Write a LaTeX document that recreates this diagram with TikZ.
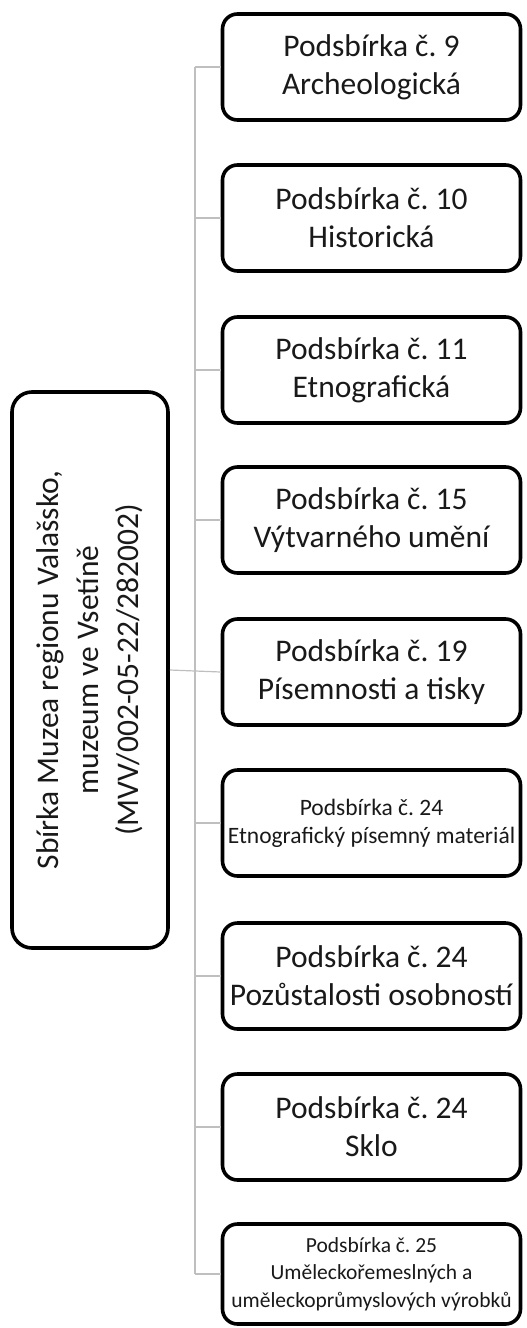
\documentclass[tikz,border=0pt]{standalone}
\usepackage{fontspec}
\setmainfont{Carlito}
\frenchspacing
\begin{document}
\begin{tikzpicture}[x=1pt,y=-1pt,
  child/.style={draw=black, line width=3.6pt, rounded corners=15pt, align=center, inner sep=0pt,
    minimum width=298pt, minimum height=106pt, text=black!90},
  big/.style={font=\fontsize{31.5}{38}\selectfont},
  small/.style={font=\fontsize{23.5}{28}\selectfont},
  tiny/.style={font=\fontsize{21.5}{27.5}\selectfont},
  rootbox/.style={draw=black, line width=3.6pt, rounded corners=20pt, align=center, inner sep=0pt,
    minimum width=556pt, minimum height=156pt, rotate=90, text=black!90,
    font=\fontsize{31.5}{40}\selectfont},
  conn/.style={draw=black!25, line width=1.2pt}]
\useasboundingbox (0,0) rectangle (527,1328);
\coordinate (trunk) at (195,0);
\node[rootbox] (root) at (90,670) {Sbírka Muzea regionu Valašsko,\\muzeum ve Vsetíně\\(MVV/002-05-22/282002)};
\node[child,big] (b1) at (371.5,67) {Podsbírka č. 9\\Archeologická};
\node[child,big] (b2) at (371.5,218) {Podsbírka č. 10\\Historická};
\node[child,big] (b3) at (371.5,370) {Podsbírka č. 11\\Etnografická};
\node[child,big] (b4) at (371.5,520) {Podsbírka č. 15\\Výtvarného umění};
\node[child,big] (b5) at (371.5,672) {Podsbírka č. 19\\Písemnosti a tisky};
\node[child,small] (b6) at (371.5,823) {Podsbírka č. 24\\Etnografický písemný materiál};
\node[child,big] (b7) at (371.5,976) {Podsbírka č. 24\\Pozůstalosti osobností};
\node[child,big] (b8) at (371.5,1127) {Podsbírka č. 24\\Sklo};
\node[child,tiny,minimum height=100pt] (b9) at (371.5,1274) {Podsbírka č. 25\\Uměleckořemeslných a\\uměleckoprůmyslových výrobků};
\draw[conn] (b1.west -| trunk) -- (b9.west -| trunk);
\foreach \b in {b1,b2,b3,b4,b6,b7,b8,b9}{
  \draw[conn] (\b.west) -- (\b.west -| trunk);
}
\draw[conn] (root.south) -- (b5.west);
\end{tikzpicture}
\end{document}
